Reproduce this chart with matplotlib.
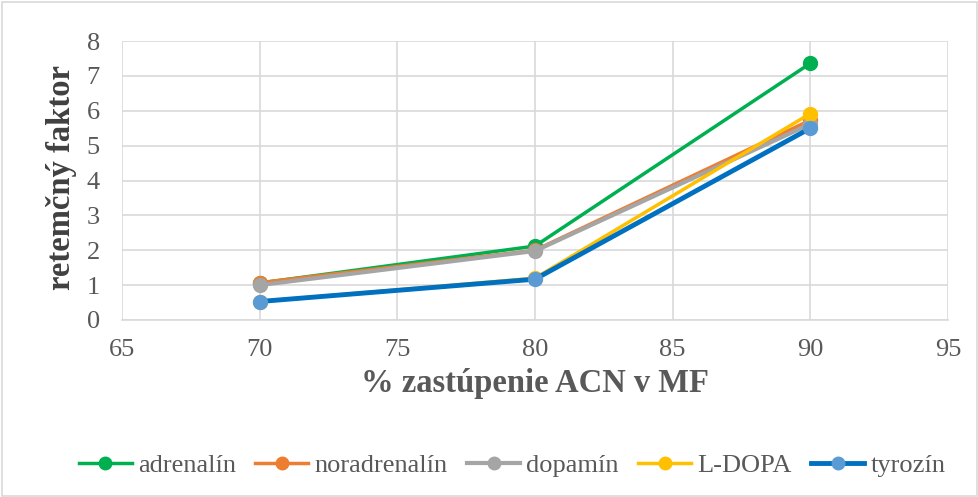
import matplotlib.pyplot as plt
from matplotlib.patches import Rectangle

plt.rcParams['font.family'] = ['Liberation Serif', 'DejaVu Serif']

acn = [70, 80, 90]
adrenalin = [1.06, 2.12, 7.36]
noradrenalin = [1.07, 2.0, 5.73]
dopamin = [1.0, 1.98, 5.62]
ldopa = [0.53, 1.2, 5.92]
tyrozin = [0.53, 1.17, 5.5]

series = [
    ('adrenalín', adrenalin, '#00B050', '#00B050', 2.5),
    ('noradrenalín', noradrenalin, '#ED7D31', '#ED7D31', 2.5),
    ('dopamín', dopamin, '#A5A5A5', '#A5A5A5', 3.0),
    ('L-DOPA', ldopa, '#FFC000', '#FFC000', 2.5),
    ('tyrozín', tyrozin, '#0070C0', '#5B9BD5', 3.5),
]

fig = plt.figure(figsize=(9.79, 4.97), dpi=100)
ax = fig.add_axes([122 / 979, 1 - 320 / 497, (948 - 122) / 979, (320 - 41) / 497])

for name, vals, lc, mc, lw in series:
    ax.plot(acn, vals, color=lc, lw=lw, marker='o', ms=10,
            markerfacecolor=mc, markeredgecolor=mc, label=name)

ax.set_xlim(65, 95)
ax.set_ylim(0, 8)
ax.set_xticks(range(65, 96, 5))
ax.set_yticks(range(0, 9))
ax.grid(color='#D9D9D9', lw=1.2)
ax.set_axisbelow(True)
for s in ['top', 'right', 'left']:
    ax.spines[s].set_visible(False)
ax.spines['bottom'].set_color('#D9D9D9')
ax.spines['bottom'].set_linewidth(1.2)
ax.tick_params(length=0, labelsize=19, labelcolor='#595959')
ax.tick_params(axis='x', pad=14)
ax.tick_params(axis='y', pad=16)

ax.set_xlabel('% zastúpenie ACN v MF', fontsize=23.5, fontweight='bold',
              color='#595959', va='top')
ax.set_ylabel('retemčný faktor', fontsize=23.5, fontweight='bold',
              color='#404040')
ax.xaxis.set_label_coords(0.5, -0.172)
ax.yaxis.set_label_coords(-0.054, 0.509)

fig.legend(loc='center', bbox_to_anchor=(0.523, 1 - 465 / 497),
           ncol=5, frameon=False, fontsize=19, handlelength=2.0,
           columnspacing=0.75, handletextpad=0.23, markerscale=0.9,
           labelcolor='#595959')

fig.patches.append(Rectangle((0.002, 0.002), 0.996, 0.994, transform=fig.transFigure,
                             fill=False, edgecolor='#D9D9D9', lw=1.2))

fig.savefig('out.png', dpi=100)
